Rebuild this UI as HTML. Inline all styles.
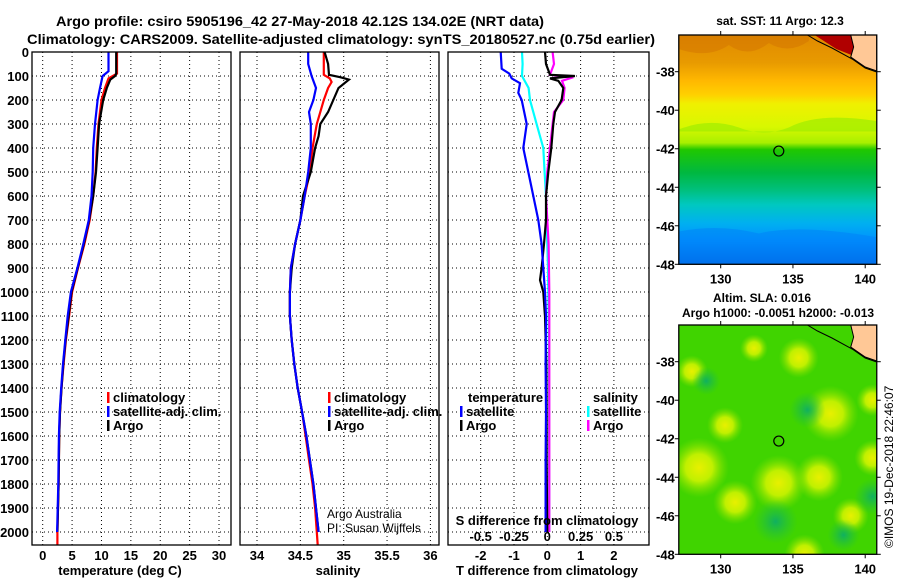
<!DOCTYPE html>
<html><head><meta charset="utf-8"><style>
body{margin:0;background:#fff}
svg{display:block;font-family:"Liberation Sans",sans-serif;font-weight:bold}
</style></head><body>
<svg id="s" width="900" height="580" viewBox="0 0 900 580" xmlns="http://www.w3.org/2000/svg">
<defs>
<linearGradient id="sst" x1="0" y1="0" x2="0" y2="1">
<stop offset="0" stop-color="#e08a00"/><stop offset="0.12" stop-color="#e89a00"/>
<stop offset="0.2" stop-color="#ffb800"/><stop offset="0.26" stop-color="#ffd000"/>
<stop offset="0.3" stop-color="#f0f000"/><stop offset="0.4" stop-color="#d8f800"/>
<stop offset="0.47" stop-color="#a8f000"/><stop offset="0.5" stop-color="#20c800"/>
<stop offset="0.6" stop-color="#00b840"/><stop offset="0.68" stop-color="#00c080"/>
<stop offset="0.74" stop-color="#00c8c0"/><stop offset="0.82" stop-color="#00b0f0"/>
<stop offset="0.9" stop-color="#0090ff"/><stop offset="1" stop-color="#0060e0"/>
</linearGradient>
<radialGradient id="yb"><stop offset="0" stop-color="#e8f000"/><stop offset="0.45" stop-color="#c0f000"/><stop offset="1" stop-color="#80e000" stop-opacity="0"/></radialGradient>
<radialGradient id="db"><stop offset="0" stop-color="#10b060"/><stop offset="1" stop-color="#20c040" stop-opacity="0"/></radialGradient>
<clipPath id="clip-sst"><rect x="679" y="35" width="198" height="229"/></clipPath>
<clipPath id="clip-sla"><rect x="679" y="325" width="198" height="229"/></clipPath>
</defs>
<g id="g"></g>
<text x="300" y="26" font-size="14" text-anchor="middle" textLength="488" lengthAdjust="spacingAndGlyphs">Argo profile: csiro 5905196_42 27-May-2018 42.12S 134.02E (NRT data)</text>
<text x="341" y="44" font-size="14" text-anchor="middle" textLength="628" lengthAdjust="spacingAndGlyphs">Climatology: CARS2009. Satellite-adjusted climatology: synTS_20180527.nc (0.75d earlier)</text>
<text x="120" y="575" font-size="13" text-anchor="middle">temperature (deg C)</text>
<text x="338" y="575" font-size="13" text-anchor="middle">salinity</text>
<text x="547" y="575" font-size="13" text-anchor="middle">T difference from climatology</text>
<text x="547" y="525" font-size="13" text-anchor="middle">S difference from climatology</text>
<text x="327" y="518" font-size="12" font-weight="normal">Argo Australia</text>
<text x="327" y="532" font-size="12" font-weight="normal">PI: Susan Wijffels</text>
<text x="780" y="25" font-size="12" text-anchor="middle">sat. SST: 11 Argo: 12.3</text>
<text x="762" y="302" font-size="12" text-anchor="middle">Altim. SLA: 0.016</text>
<text x="778" y="317" font-size="12" text-anchor="middle">Argo h1000: -0.0051 h2000: -0.013</text>
<text transform="translate(893,548) rotate(-90)" font-size="12" font-weight="normal">©IMOS 19-Dec-2018 22:46:07</text>
</svg>
<script>
const depthTicks=[0,100,200,300,400,500,600,700,800,900,1000,1100,1200,1300,1400,1500,1600,1700,1800,1900,2000];
const tempTicks=[0,5,10,15,20,25,30];
const salTicks=[34,34.5,35,35.5,36];
const salTickLabels=["34","34.5","35","35.5","36"];
const tdTicks=[-2,-1,0,1,2];
const sdTicks=[-0.5,-0.25,0,0.25,0.5];
const sdTickLabels=["-0.5","-0.25","0","0.25","0.5"];
const lonTicks=[130,135,140];
const latTicks=[-38,-40,-42,-44,-46,-48];
const argoPos=[134.02,-42.12];

const tArgoD=[0,90,100,115,150,200,300,400,500,600,700,800,900,1000,1100,1200,1300,1400,1500,1600,1700,1800,1900,2000];
const tArgoV=[12.5,12.5,12.3,11.5,10.9,10.3,9.6,9.35,9.07,8.6,7.9,7.0,5.95,4.9,4.4,3.9,3.5,3.2,2.95,2.8,2.75,2.7,2.6,2.5];
const tClimD=[0,90,110,150,200,300,400,500,600,700,800,900,1000,1100,1200,1300,1400,1500,1600,1700,1800,1900,2000,2054];
const tClimV=[12.65,12.65,11.2,10.6,10.0,9.5,9.2,9.0,8.6,8.0,7.1,6.0,5.0,4.5,3.95,3.55,3.2,2.95,2.8,2.75,2.7,2.6,2.5,2.5];
const tSatD=[0,80,100,150,200,300,400,500,600,700,800,900,1000,1100,1200,1300,1400,1500,1600,1700,1800,1900,2000];
const tSatV=[11.2,11.2,10.2,9.75,9.35,8.9,8.6,8.5,8.3,7.85,6.9,5.9,4.8,4.25,3.85,3.45,3.15,2.9,2.75,2.7,2.65,2.55,2.45];

const sArgoD=[0,50,95,105,115,150,200,250,300,350,400,500,600,700,800,900,1000,1100,1200,1300,1400,1500,1600,1700,1800,1900,2000];
const sArgoV=[34.78,34.82,34.83,34.96,35.06,34.94,34.88,34.82,34.73,34.71,34.67,34.62,34.53,34.50,34.44,34.40,34.38,34.38,34.40,34.43,34.47,34.52,34.57,34.61,34.65,34.68,34.71];
const sClimD=[0,95,110,125,150,200,250,300,400,500,600,700,800,900,1000,1100,1200,1300,1400,1500,1600,1700,1800,1900,2000,2054];
const sClimV=[34.77,34.77,34.84,34.86,34.82,34.77,34.73,34.69,34.64,34.61,34.55,34.50,34.44,34.39,34.38,34.38,34.40,34.43,34.47,34.52,34.56,34.60,34.64,34.67,34.69,34.70];
const sSatD=[0,50,100,150,200,250,300,400,500,600,700,800,900,1000,1100,1200,1300,1400,1500,1600,1700,1800,1900,2000];
const sSatV=[34.59,34.59,34.63,34.68,34.65,34.60,34.62,34.62,34.59,34.55,34.50,34.44,34.39,34.38,34.38,34.40,34.43,34.47,34.52,34.57,34.61,34.65,34.68,34.71];

const dtSatD=[0,70,90,110,130,170,200,300,400,500,600,700,800,900,1000,1100,1300,1500,1700,2000];
const dtSatV=[-1.4,-1.37,-1.14,-1.07,-0.82,-0.87,-0.77,-0.62,-0.72,-0.57,-0.42,-0.27,-0.17,-0.12,-0.07,-0.04,-0.05,-0.04,-0.05,-0.05];
const dtArgoD=[0,50,95,100,110,120,150,200,250,300,400,500,600,700,800,900,950,1000,1100,1300,1500,1700,2000];
const dtArgoV=[-0.07,-0.04,0.08,0.83,0.08,0.33,0.48,0.43,0.23,0.18,0.12,0.03,-0.04,-0.04,-0.1,-0.17,-0.22,-0.12,-0.07,-0.03,-0.02,-0.02,0.0];
const dsSatD=[0,50,100,150,200,300,400,500,600,700,800,900,1100,1400,1700,2000];
const dsSatV=[-0.19,-0.185,-0.19,-0.14,-0.13,-0.08,-0.03,-0.02,-0.01,-0.005,0.0,0.005,0.01,0.013,0.013,0.015];
const dsArgoD=[0,50,95,105,120,150,200,250,300,400,500,600,700,800,1000,1300,1600,2000];
const dsArgoV=[0.04,0.05,0.02,0.195,0.11,0.13,0.12,0.05,0.04,0.02,0.0,-0.01,0.0,0.01,0.015,0.015,0.015,0.015];

const NS="http://www.w3.org/2000/svg";
const G=document.getElementById('g');
function mk(tag,attrs,parent){const e=document.createElementNS(NS,tag);for(const k in attrs)e.setAttribute(k,attrs[k]);(parent||G).appendChild(e);return e;}
const Y0=52,Y1=545;
const yD=d=>Y0+d*0.24;
const xT=t=>42.7+t*5.877;
const xS=s=>257+(s-34)*86.7;
const xDT=v=>547.3+v*33.3;
const xDS=v=>547.3+v*133.3;
const panels=[[32,231],[240,439],[448,649]];

panels.forEach((p,i)=>{
  depthTicks.forEach(d=>{
    const l=mk('line',{x1:p[0],x2:p[1],y1:yD(d),y2:yD(d),stroke:'#000','stroke-dasharray':'1,3'});
    
    
  });
});
tempTicks.forEach(t=>{
  const l=mk('line',{x1:xT(t),x2:xT(t),y1:Y0,y2:Y1,stroke:'#000','stroke-dasharray':'1,3'});
  
  
  const tx=mk('text',{x:xT(t),y:560,'font-size':13,'text-anchor':'middle'});tx.textContent=t;
  
  
});
salTicks.forEach((s,i)=>{
  const l=mk('line',{x1:xS(s),x2:xS(s),y1:Y0,y2:Y1,stroke:'#000','stroke-dasharray':'1,3'});
  
  
  const tx=mk('text',{x:xS(s),y:560,'font-size':13,'text-anchor':'middle'});tx.textContent=salTickLabels[i];
  
  
});
tdTicks.forEach(v=>{
  const l=mk('line',{x1:xDT(v),x2:xDT(v),y1:Y0,y2:Y1,stroke:'#000','stroke-dasharray':'1,3'});
  
  
  const tx=mk('text',{x:xDT(v),y:560,'font-size':13,'text-anchor':'middle'});tx.textContent=v;
  
  
});
sdTicks.forEach((v,i)=>{
  const tx=mk('text',{x:xDS(v),y:541,'font-size':13,'text-anchor':'middle'});tx.textContent=sdTickLabels[i];
  
  
});
depthTicks.forEach(d=>{
  const tx=mk('text',{x:29,y:yD(d)+5,'font-size':13,'text-anchor':'end'});tx.textContent=d;
  
  
});

function line(D,V,fx,col,name){
  const pts=D.map((d,i)=>fx(V[i]).toFixed(1)+','+yD(d).toFixed(1)).join(' ');
  const p=mk('polyline',{points:pts,fill:'none',stroke:col,'stroke-width':2.2});
  
  
}
line(tClimD,tClimV,xT,'#ff0000','temperature-climatology-line');
line(tArgoD,tArgoV,xT,'#000000','temperature-argo-line');
line(tSatD,tSatV,xT,'#0000ff','temperature-satellite-line');
line(sClimD,sClimV,xS,'#ff0000','salinity-climatology-line');
line(sArgoD,sArgoV,xS,'#000000','salinity-argo-line');
line(sSatD,sSatV,xS,'#0000ff','salinity-satellite-line');
line(dsSatD,dsSatV,xDS,'#00ffff','s-diff-satellite-line');
line(dsArgoD,dsArgoV,xDS,'#ff00ff','s-diff-argo-line');
line(dtArgoD,dtArgoV,xDT,'#000000','t-diff-argo-line');
line(dtSatD,dtSatV,xDT,'#0000ff','t-diff-satellite-line');

panels.forEach(p=>{
  const r=mk('rect',{x:p[0],y:Y0,width:p[1]-p[0],height:Y1-Y0,fill:'none',stroke:'#000','stroke-width':1.3});
  
  
});

function legend(x,y,col,label,name){
  const m=mk('rect',{x:x,y:y-10,width:2.5,height:11,fill:col});
  
  
  const tx=mk('text',{x:x+6,y:y,'font-size':13});tx.textContent=label;
  
  
}
legend(107,402,'#ff0000','climatology','legend-climatology');
legend(107,416,'#0000ff','satellite-adj. clim.','legend-satellite');
legend(107,430,'#000000','Argo','legend-argo');
legend(328,402,'#ff0000','climatology','legend2-climatology');
legend(328,416,'#0000ff','satellite-adj. clim.','legend2-satellite');
legend(328,430,'#000000','Argo','legend2-argo');
(function(){
  const tx=mk('text',{x:468,y:402,'font-size':13});tx.textContent='temperature';
  
  
  const t2=mk('text',{x:593,y:402,'font-size':13});t2.textContent='salinity';
  
  
})();
legend(460,416,'#0000ff','satellite','legend-t-satellite');
legend(460,430,'#000000','Argo','legend-t-argo');
legend(587,416,'#00ffff','satellite','legend-s-satellite');
legend(587,430,'#ff00ff','Argo','legend-s-argo');

// maps
const LON0=127.1,LON1=140.8;
const xLon=l=>720.7+(l-130)*14.45;
function mapFrame(top,lat38y,kind){
  const bottom=lat38y+10*19.26;
  const yLat=la=>lat38y+(-38-la)*19.26;
  const x0=xLon(LON0),x1=xLon(LON1);
  const g=mk('g',{});
  
  
  const f=mk('g',{'clip-path':'url(#clip-'+kind+')'},g);
  if(kind==='sst'){
    mk('rect',{x:x0,y:top,width:x1-x0,height:bottom-top,fill:'url(#sst)'},f);
    mk('path',{d:`M${x0} ${top+14}q30 10 50 -4q20 14 40 -2q20 12 40 -2l0 -14l-130 0z`,fill:'#d07000',opacity:0.45},f);
    mk('path',{d:`M${xLon(136.5)} ${top}L${xLon(139.5)} ${top}L${xLon(139.4)} ${top+22}L${xLon(138)} ${top+14}z`,fill:'#b00000'},f);
    mk('path',{d:`M${x0} ${yLat(-41)}q30 -12 60 -2q25 10 50 0q30 -16 90 -6v10h-200z`,fill:'#a0ec00',opacity:0.7},f);
    mk('path',{d:`M${x0} ${yLat(-46.3)}q40 -8 80 2q40 -10 120 4V${bottom}H${x0}z`,fill:'#0080f8',opacity:0.5},f);
  } else {
    mk('rect',{x:x0,y:top,width:x1-x0,height:bottom-top,fill:'#40d400'},f);
    const blobs=[[128.5,-43.5,30],[134,-44.3,28],[136.8,-44,24],[137.6,-40.7,28],[135.4,-37.8,20],[131,-45.3,22],[130.3,-41.3,18],[135.8,-48,20],[140.5,-43,18],[132.3,-37.3,14],[128,-38.5,16],[139,-46,18],[140.5,-40,16]];
    blobs.forEach(b=>mk('circle',{cx:xLon(b[0]),cy:yLat(b[1]),r:b[2],fill:'url(#yb)'},f));
    const dk=[[133.8,-46.3,22],[136,-40.5,18],[140.5,-45,18],[138.5,-47,16],[129,-39,14]];
    dk.forEach(b=>mk('circle',{cx:xLon(b[0]),cy:yLat(b[1]),r:b[2],fill:'url(#db)'},f));
  }
  mk('path',{d:`M${xLon(139.0)} ${top}L${xLon(139.2)} ${top+12}L${xLon(139.0)} ${top+22}L${xLon(140.0)} ${top+32}L${xLon(140.8)} ${top+36}L${xLon(140.8)} ${top}z`,fill:'#ffc896',stroke:'#000','stroke-width':1},f);
  mk('polyline',{points:`${xLon(136.0)},${top} ${xLon(136.7)},${top+6} ${xLon(137.7)},${top+13} ${xLon(139.1)},${top+24} ${xLon(140.0)},${top+33} ${xLon(140.8)},${top+37}`,fill:'none',stroke:'#000','stroke-width':1},f);
  const c=mk('circle',{cx:xLon(argoPos[0]),cy:yLat(argoPos[1]),r:5,fill:'none',stroke:'#000','stroke-width':1.2},g);
  
  
  mk('rect',{x:x0,y:top,width:x1-x0,height:bottom-top,fill:'none',stroke:'#000','stroke-width':1.3},g);
  lonTicks.forEach(l=>{
    mk('line',{x1:xLon(l),x2:xLon(l),y1:top-4,y2:top,stroke:'#000'},g);
    mk('line',{x1:xLon(l),x2:xLon(l),y1:bottom,y2:bottom+4,stroke:'#000'},g);
    const t=mk('text',{x:xLon(l),y:bottom+19,'font-size':13,'text-anchor':'middle'},g);t.textContent=l;
    
    
  });
  latTicks.forEach(la=>{
    mk('line',{x1:x0-4,x2:x0,y1:yLat(la),y2:yLat(la),stroke:'#000'},g);
    mk('line',{x1:x1,x2:x1+4,y1:yLat(la),y2:yLat(la),stroke:'#000'},g);
    const t=mk('text',{x:x0-4,y:yLat(la)+5,'font-size':13,'text-anchor':'end'},g);t.textContent=la;
    
    
  });
}
mapFrame(35,71.7,'sst');
mapFrame(325,361.7,'sla');
</script>
</body></html>
